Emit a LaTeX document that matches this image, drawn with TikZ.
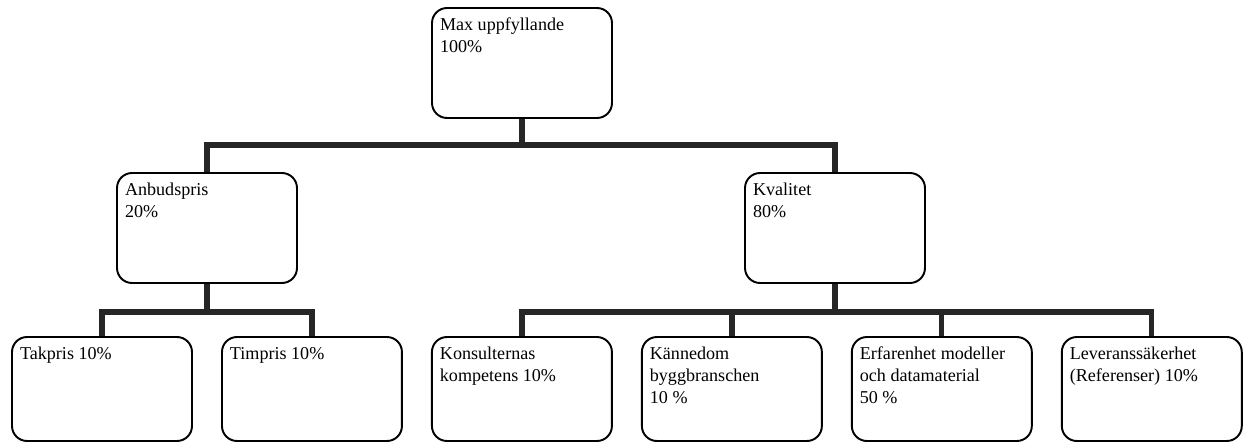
\documentclass[tikz,border=0pt]{standalone}
\usepackage{fontspec}
\setmainfont{Liberation Serif}
\usetikzlibrary{positioning}
\tikzset{
    crit/.style={draw, line width=1.1pt, rounded corners=0.3cm, inner xsep=0.16cm, inner ysep=0pt, font=\fontsize{10.3}{12.5}\selectfont}, % the box of each criterion
    conn/.style={line width=3pt, draw=black!85}, % thick tree lines
    node distance=4.2cm, % distance between the boxes of the bottom row
}
\newcommand{\crittext}[2]{\parbox[t][#1][t]{3.28cm}{\rule{0pt}{13pt}#2}}

\begin{document}
\begin{tikzpicture}[x=0.02cm, y=-0.02cm]
    \useasboundingbox (0,0) rectangle (1244,443);
    \node[crit] (max) at (522,63) {\crittext{2.2cm}{Max uppfyllande\\100\%}};
    \node[crit] (anbud) at (207,228) {\crittext{2.2cm}{Anbudspris\\20\%}};
    \node[crit] (kval) at (835,228) {\crittext{2.2cm}{Kvalitet\\80\%}};
    \node[crit] (tak) at (102,389) {\crittext{2.08cm}{Takpris 10\%}};
    \node[crit, right of=tak] (tim) {\crittext{2.08cm}{Timpris 10\%}};
    \node[crit, right of=tim] (kons) {\crittext{2.08cm}{Konsulternas\\kompetens 10\%}};
    \node[crit, right of=kons] (kann) {\crittext{2.08cm}{Kännedom\\byggbranschen\\10 \%}};
    \node[crit, right of=kann] (erf) {\crittext{2.08cm}{Erfarenhet modeller\\och datamaterial\\50 \%}};
    \node[crit, right of=erf] (lev) {\crittext{2.08cm}{Leveranssäkerhet\\(Referenser) 10\%}};
    \coordinate (bar1) at (522,145);
    \coordinate (bar2) at (207,312);
    \coordinate (bar3) at (835,312);
    \draw[conn] (anbud.north) |- (bar1) -| (kval.north);
    \draw[conn] (max.south) -- (bar1);
    \draw[conn] (tak.north) |- (bar2) -| (tim.north);
    \draw[conn] (anbud.south) -- (bar2);
    \draw[conn] (kons.north) |- (bar3) -| (lev.north);
    \draw[conn] (kval.south) -- (bar3);
    \draw[conn] (kann.north) -- (kann.north |- bar3);
    \draw[conn] (erf.north) -- (erf.north |- bar3);
\end{tikzpicture}
\end{document}
